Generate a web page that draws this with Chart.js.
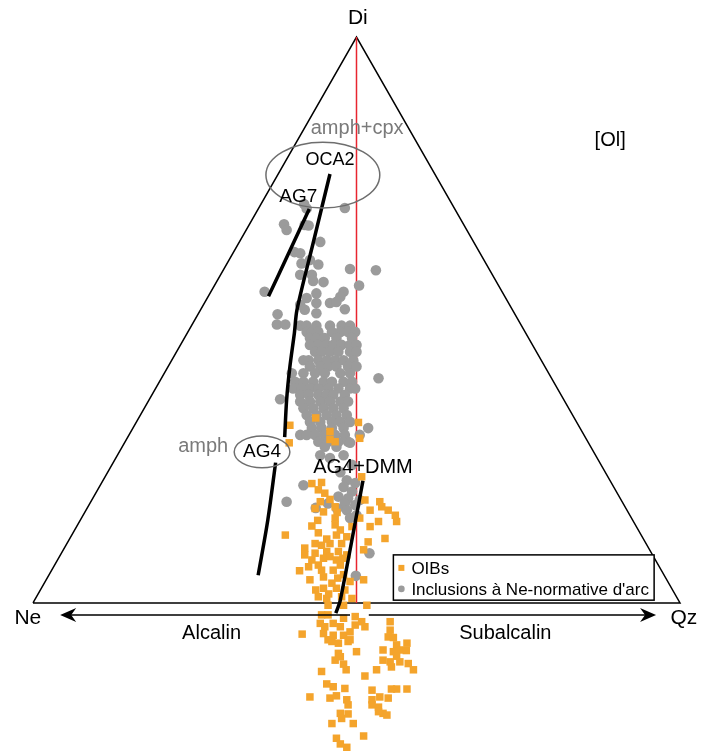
<!DOCTYPE html>
<html>
<head>
<meta charset="utf-8">
<script src="https://cdn.jsdelivr.net/npm/chart.js@4.4.0/dist/chart.umd.min.js"></script>
<style>
  body { margin: 0; background: #fff; }
  canvas { display: block; }
</style>
</head>
<body>
<canvas id="ternary" width="702" height="751"></canvas>
<script>
// Ternary plane: X = 0 (Ne) .. 100 (Qz), Y = 0 (base) .. 100 (Di)
const frameVertices = [[0, 0], [50, 100], [100, 0], [0, 0]];
const dividerLine = [[50, 0], [50, 100]];

// Inclusions à Ne-normative d'arc
const arcInclusions = [
  [41.9,70.5],[42.3,69.7],[48.2,69.8],[38.8,66.9],[39.2,65.9],[42.0,66.8],[42.6,66.7],[44.4,63.8],
  [40.4,62.0],[41.3,61.8],[41.5,60.0],[42.8,60.6],[44.1,59.8],[49.0,59.0],[53.0,58.8],[41.3,58.0],
  [43.1,58.0],[43.3,56.9],[44.9,56.7],[50.4,56.1],[35.8,55.0],[43.8,54.7],[48.0,55.0],[47.5,54.1],
  [42.3,53.9],[45.9,53.0],[46.9,53.2],[43.8,53.0],[41.3,52.7],[42.0,51.8],[37.8,51.0],[43.8,51.2],
  [48.2,51.9],[37.7,49.2],[39.0,49.2],[41.3,49.0],[42.3,49.0],[43.8,49.0],[45.9,49.0],[47.7,49.0],
  [49.0,49.0],[42.3,47.9],[43.1,47.9],[44.1,47.9],[46.2,47.9],[47.5,47.9],[48.7,47.9],[49.8,47.9],
  [42.8,46.8],[43.8,46.8],[45.1,46.8],[46.9,46.8],[49.3,46.8],[42.8,45.6],[44.1,45.6],[45.4,45.6],
  [46.4,45.6],[47.7,45.6],[49.0,45.6],[50.0,45.6],[43.6,44.4],[44.6,44.4],[45.9,44.4],[47.2,44.4],
  [49.0,44.4],[50.0,44.4],[41.8,42.9],[42.6,42.9],[44.1,42.9],[45.4,42.9],[46.7,42.9],[48.0,42.9],
  [49.5,42.9],[42.8,41.8],[44.4,41.8],[45.6,41.8],[46.9,41.8],[48.7,41.8],[50.0,41.8],[40.0,40.6],
  [41.8,40.6],[43.6,40.6],[45.1,40.6],[47.5,40.6],[49.0,40.6],[53.4,39.7],[40.5,39.1],[41.8,39.1],
  [43.3,39.1],[44.9,39.1],[46.2,39.1],[48.0,39.1],[49.3,39.1],[40.2,37.9],[41.5,37.9],[42.8,37.9],
  [44.1,37.9],[45.6,37.9],[47.2,37.9],[49.0,37.9],[49.8,37.9],[41.3,36.8],[42.6,36.8],[44.1,36.8],
  [45.4,36.8],[46.4,36.8],[48.2,36.8],[38.2,36.0],[41.3,35.6],[42.8,35.6],[44.4,35.6],[45.9,35.6],
  [47.5,35.6],[48.7,35.6],[41.8,34.4],[43.3,34.4],[44.9,34.4],[46.4,34.4],[48.0,34.4],[42.3,33.2],
  [43.8,33.2],[45.4,33.2],[46.9,33.2],[48.5,33.2],[42.8,32.0],[44.4,32.0],[46.2,32.0],[47.5,32.0],
  [49.0,32.0],[43.1,30.9],[44.6,30.9],[46.2,30.9],[48.0,30.9],[51.8,30.9],[41.3,29.7],[42.3,29.7],
  [43.6,29.7],[45.1,29.7],[46.7,29.7],[48.2,29.7],[50.5,29.7],[44.1,28.5],[45.6,28.5],[47.2,28.5],
  [48.7,28.5],[45.1,27.6],[46.9,27.6],[49.0,28.3],[44.4,26.1],[45.9,25.6],[48.0,26.1],[47.5,23.1],
  [49.3,24.4],[48.5,21.7],[49.8,21.2],[48.0,20.5],[49.3,19.7],[41.8,20.8],[47.2,18.8],[48.7,18.5],
  [39.2,17.9],[45.6,17.6],[48.2,17.6],[49.8,17.3],[50.5,18.2],[48.5,16.4],[50.0,15.5],[49.0,15.0],
  [43.7,16.8],[47.0,16.7],[49.9,4.8],[52.0,8.8]
];

// OIBs
const oibs = [
  [46.7,28.5],[43.7,32.7],[39.7,31.4],[45.9,30.3],[50.3,31.9],[50.5,29.1],[45.9,28.9],[39.6,28.3],
  [50.8,22.3],[43.1,21.1],[44.6,21.3],[44.1,20.0],[45.1,19.4],[45.9,18.3],[44.4,17.9],[43.6,16.7],
  [44.9,16.1],[46.7,17.0],[47.0,16.0],[51.3,18.2],[53.6,17.9],[53.9,17.0],[52.1,16.4],[54.9,16.4],
  [50.5,15.0],[56.0,15.5],[56.2,14.4],[53.4,14.4],[52.1,13.5],[46.7,15.0],[46.7,13.8],[47.5,12.9],
  [49.3,13.5],[46.9,12.0],[48.5,11.7],[39.0,12.0],[54.4,11.4],[51.8,10.8],[47.7,10.5],[45.9,10.5],
  [44.6,10.2],[43.6,10.5],[42.0,9.7],[43.6,8.8],[45.4,9.1],[47.2,9.1],[51.1,9.4],[48.5,8.5],
  [42.0,8.5],[41.2,5.7],[44.1,6.7],[44.9,7.9],[45.9,8.2],[46.9,7.6],[44.6,5.8],[46.4,5.8],
  [44.9,4.6],[46.2,3.5],[49.0,3.8],[44.9,2.6],[46.9,2.6],[51.1,4.1],[44.1,1.1],[45.4,0.8],
  [47.7,1.1],[49.3,0.8],[43.1,7.6],[47.5,6.7],[42.8,4.1],[47.1,4.4],[43.7,2.3],[48.2,2.3],
  [45.6,-0.4],[48.0,-0.4],[51.6,-0.4],[44.6,-2.1],[45.6,-2.1],[48.0,-2.7],[49.8,-2.4],[50.8,-3.3],
  [51.3,-4.2],[49.8,-3.9],[44.4,-3.6],[45.1,-4.2],[46.4,-3.6],[47.5,-4.2],[44.9,-5.4],[46.4,-5.7],
  [48.0,-5.7],[49.0,-5.1],[45.6,-6.5],[47.2,-7.1],[48.7,-6.8],[46.2,-6.8],[49.0,-6.5],[41.6,-5.5],
  [55.2,-3.3],[55.2,-4.8],[54.9,-6.0],[55.7,-6.1],[56.2,-7.4],[57.8,-7.1],[56.7,-8.3],[54.1,-8.3],
  [55.7,-8.6],[56.2,-9.4],[57.7,-8.4],[54.1,-10.1],[55.2,-10.4],[56.7,-10.4],[58.0,-10.7],[58.8,-11.8],
  [55.4,-11.3],[53.1,-11.8],[44.6,-12.1],[48.4,-11.8],[51.3,-12.9],[46.7,-10.1],[47.5,-9.5],[48.0,-10.8],
  [47.2,-8.9],[50.0,-8.6],[45.4,-14.3],[46.4,-14.8],[48.2,-15.1],[52.4,-15.4],[55.4,-15.2],[56.2,-15.2],
  [57.8,-15.2],[42.8,-16.6],[45.9,-16.8],[46.9,-16.4],[48.5,-17.1],[52.4,-17.1],[53.6,-16.6],[54.9,-16.8],
  [48.7,-18.0],[52.4,-18.0],[53.4,-18.4],[54.1,-19.5],[53.4,-19.2],[47.5,-19.5],[48.7,-19.6],[47.7,-20.4],
  [46.2,-21.3],[49.5,-21.3],[51.1,-23.5],[46.9,-23.9],[47.5,-24.9],[48.5,-25.5],[54.7,-19.8],
  [44.1,12.4],[45.4,11.3],[43.1,13.6],[42.6,6.4],[48.0,5.0],[45.7,1.6],[47.9,7.9],[44.0,14.6]
];

// melting / mixing trends
const oca2Trend = [[45.9,75.8],[43.3,63.6],[40.8,51.8],[40.4,47.7],[39.7,41.7],[39.2,35.9],[38.9,29.3]];
const ag7Trend = [[42.7,69.6],[39.6,62.0],[36.4,54.2]];
const ag4Trend = [[37.5,24.8],[36.3,14.7],[34.8,4.9]];
const dmmTrend = [[51.0,21.6],[47.5,0.5],[46.8,-1.8]];

const ORANGE = '#f4a42c';
const GREY = '#9b9b9b';
const FONT = '"Liberation Sans", Arial, sans-serif';

const toXY = arr => arr.map(p => ({ x: p[0], y: p[1] }));

function trend(data) {
  return {
    data: toXY(data), showLine: true, borderColor: '#000', borderWidth: 3.5,
    pointRadius: 0, order: 1, borderCapStyle: 'butt', tension: 0.3
  };
}

const decorPlugin = {
  id: 'decor',
  afterDraw(chart) {
    const ctx = chart.ctx;
    const sx = chart.scales.x, sy = chart.scales.y;
    const px = v => sx.getPixelForValue(v);
    const py = v => sy.getPixelForValue(v);
    ctx.save();

    // Alcalin / Subalcalin arrow
    const ay = py(-2.1);
    ctx.strokeStyle = '#000';
    ctx.lineWidth = 1.5;
    ctx.beginPath();
    ctx.moveTo(px(4.2) + 6, ay); ctx.lineTo(px(49.0), ay);
    ctx.moveTo(px(51.9), ay); ctx.lineTo(px(96.3) - 6, ay);
    ctx.stroke();
    ctx.fillStyle = '#000';
    function head(tipX, dir) {
      ctx.beginPath();
      ctx.moveTo(tipX, ay);
      ctx.lineTo(tipX + dir * 16, ay - 7);
      ctx.lineTo(tipX + dir * 11, ay);
      ctx.lineTo(tipX + dir * 16, ay + 7);
      ctx.closePath();
      ctx.fill();
    }
    head(px(4.2), 1);
    head(px(96.3), -1);

    // ellipses
    ctx.strokeStyle = '#6e6e6e';
    ctx.lineWidth = 1.5;
    function ring(cx, cy, rx, ry) {
      const x0 = px(cx), y0 = py(cy);
      ctx.beginPath();
      ctx.ellipse(x0, y0, Math.abs(px(cx + rx) - x0), Math.abs(py(cy + ry) - y0), 0, 0, Math.PI * 2);
      ctx.stroke();
    }
    ring(44.8, 75.6, 8.8, 5.8);
    ring(35.4, 26.7, 4.3, 2.8);

    // labels
    ctx.textAlign = 'center';
    ctx.textBaseline = 'middle';
    function label(txt, x, y, size, color) {
      ctx.font = size + 'px ' + FONT;
      ctx.fillStyle = color || '#000';
      ctx.fillText(txt, px(x), py(y));
    }
    label('Di', 50.2, 103.4, 21);
    label('Ne', -0.8, -2.6, 21);
    label('Qz', 100.6, -2.6, 21);
    label('Alcalin', 27.6, -5.3, 20);
    label('Subalcalin', 73.0, -5.3, 20);
    label('[Ol]', 89.2, 81.8, 20);
    label('amph+cpx', 50.1, 83.9, 20, '#7a7a7a');
    label('OCA2', 45.9, 78.3, 18);
    label('AG7', 41.0, 71.7, 19);
    label('amph', 26.3, 27.6, 20, '#7a7a7a');
    label('AG4', 35.4, 26.7, 19);
    label('AG4+DMM', 51.0, 23.9, 20);

    // legend box
    const lx0 = px(55.7), lx1 = px(96.0), ly0 = py(8.5), ly1 = py(0.5);
    ctx.fillStyle = '#fff';
    ctx.fillRect(lx0, ly0, lx1 - lx0, ly1 - ly0);
    ctx.strokeStyle = '#000';
    ctx.lineWidth = 1.5;
    ctx.strokeRect(lx0, ly0, lx1 - lx0, ly1 - ly0);
    const items = chart.data.datasets.filter(d => d.legendText).sort((a, b) => a.order - b.order);
    ctx.textAlign = 'left';
    ctx.font = '17px ' + FONT;
    items.forEach((d, i) => {
      const yy = ly0 + 13 + i * 21;
      ctx.fillStyle = d.backgroundColor;
      if (d.pointStyle === 'rect') {
        ctx.fillRect(lx0 + 5, yy - 3, 6, 6);
      } else {
        ctx.beginPath(); ctx.arc(lx0 + 8, yy, 3.3, 0, Math.PI * 2); ctx.fill();
      }
      ctx.fillStyle = '#000';
      ctx.fillText(d.legendText, lx0 + 18, yy + 1);
    });
    ctx.restore();
  }
};

new Chart(document.getElementById('ternary'), {
  type: 'scatter',
  data: {
    datasets: [
      { data: toXY(frameVertices), showLine: true, borderColor: '#000', borderWidth: 1.5, pointRadius: 0, order: 5 },
      { data: toXY(dividerLine), showLine: true, borderColor: '#e8252f', borderWidth: 1.5, pointRadius: 0, order: 4 },
      { legendText: "Inclusions à Ne-normative d'arc", data: toXY(arcInclusions), pointStyle: 'circle',
        pointRadius: 5.3, backgroundColor: GREY, borderWidth: 0, order: 3 },
      { legendText: 'OIBs', data: toXY(oibs), pointStyle: 'rect',
        pointRadius: 5.3, backgroundColor: ORANGE, borderWidth: 0, order: 2 },
      trend(oca2Trend),
      trend(ag7Trend),
      trend(ag4Trend),
      trend(dmmTrend)
    ]
  },
  options: {
    responsive: false,
    animation: false,
    devicePixelRatio: 1,
    layout: { padding: 0, autoPadding: false },
    scales: {
      x: { type: 'linear', min: -5.10, max: 103.40, display: false },
      y: { type: 'linear', min: -26.15, max: 106.54, display: false }
    },
    plugins: { legend: { display: false }, tooltip: { enabled: false } },
    events: []
  },
  plugins: [decorPlugin]
});
</script>
</body>
</html>
